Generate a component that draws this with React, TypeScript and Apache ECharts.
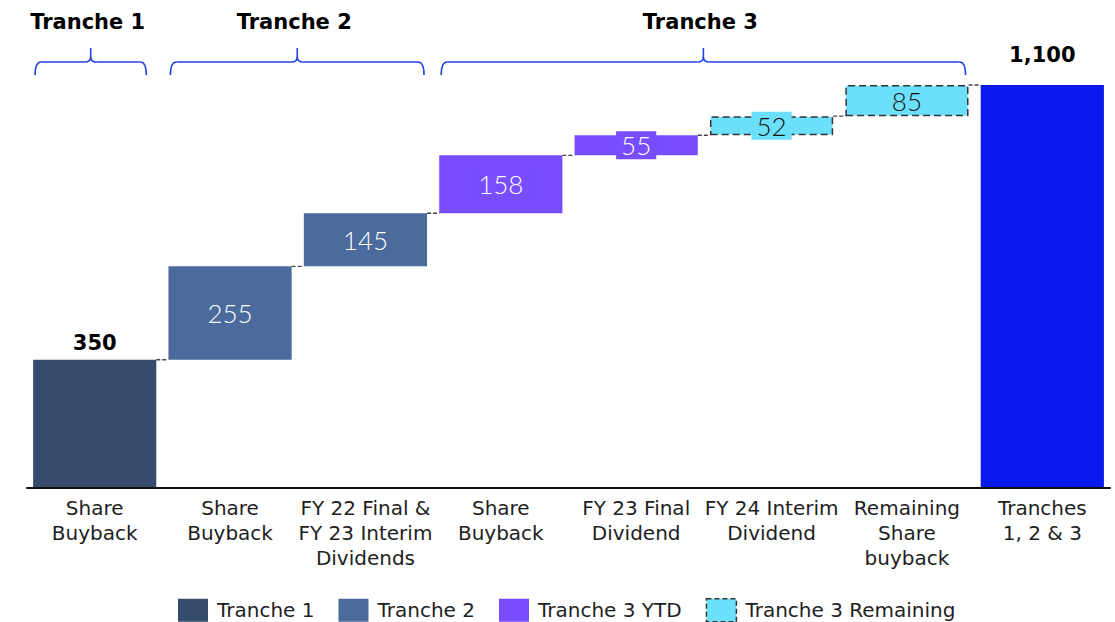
import React, { useEffect, useRef } from "react";
import * as echarts from "echarts";

const categories = [
  "Share\nBuyback",
  "Share\nBuyback",
  "FY 22 Final &\nFY 23 Interim\nDividends",
  "Share\nBuyback",
  "FY 23 Final\nDividend",
  "FY 24 Interim\nDividend",
  "Remaining\nShare\nbuyback",
  "Tranches\n1, 2 & 3",
];
const tranche1: (number | string)[] = [350, "-", "-", "-", "-", "-", "-", "-"];
const tranche2: (number | string)[] = ["-", 255, 145, "-", "-", "-", "-", "-"];
const tranche3Ytd: (number | string)[] = ["-", "-", "-", 158, 55, "-", "-", "-"];
const tranche3Remaining: (number | string)[] = ["-", "-", "-", "-", "-", 52, 85, "-"];
const totals: (number | string)[] = ["-", "-", "-", "-", "-", "-", "-", 1100];
const groupTitles = ["Tranche 1", "Tranche 2", "Tranche 3"];
const groupSpans = [
  [0, 0],
  [1, 2],
  [3, 6],
];
const legendNames = ["Tranche 1", "Tranche 2", "Tranche 3 YTD", "Tranche 3 Remaining"];

const C_T1 = "#364C6E";
const C_T2 = "#4A6B9B";
const C_T3 = "#784CFF";
const C_T3R = "#6CE0FB";
const C_TOT = "#0A1AEE";
const C_BRACE = "#2440E6";
const FONT = "'DejaVu Sans', Lato, sans-serif";
const NUM_FONT = "Lato, 'DejaVu Sans', sans-serif";
const GAP = 0.09;

export default function App() {
  const ref = useRef<HTMLDivElement>(null);
  useEffect(() => {
    if (!ref.current) return;
    const chart = echarts.init(ref.current, undefined, { renderer: "svg" });

    const n = categories.length;
    const steps: number[] = [];
    for (let i = 0; i < n; i++) {
      const vals = [tranche1[i], tranche2[i], tranche3Ytd[i], tranche3Remaining[i]];
      const v = vals.find((x) => x !== "-");
      steps.push(typeof v === "number" ? v : 0);
    }
    const base: number[] = [];
    const cum: number[] = [];
    let acc = 0;
    for (let i = 0; i < n; i++) {
      if (totals[i] !== "-") {
        base.push(0);
        cum.push(Number(totals[i]));
      } else {
        base.push(acc);
        acc += steps[i];
        cum.push(acc);
      }
    }
    const connectors: number[][] = [];
    for (let i = 0; i < n - 1; i++) connectors.push([i, cum[i]]);

    const insideLabel = (color: string, bg: string) => ({
      show: true,
      position: "inside",
      color,
      fontFamily: NUM_FONT,
      fontWeight: 300,
      fontSize: 26,
      lineHeight: 25,
      backgroundColor: bg,
      padding: [3, 5, 0, 5],
    });

    const boldLabel = (distance: number) => ({
      show: true,
      position: "top",
      distance,
      color: "#000",
      fontFamily: FONT,
      fontWeight: "bold",
      fontSize: 21,
      formatter: (p: any) => Number(p.value).toLocaleString("en-US"),
    });

    const remainingStyle = { color: C_T3R, borderColor: "#333", borderWidth: 1.5, borderType: [7, 4] };

    const option: any = {
      animation: false,
      grid: { left: 27, right: 5, top: 85, bottom: 134, outerBoundsMode: "none" },
      xAxis: {
        type: "category",
        data: categories,
        axisTick: { show: false },
        axisLine: { lineStyle: { color: "#111", width: 2 } },
        axisLabel: {
          interval: 0,
          color: "#1e1e1e",
          fontFamily: FONT,
          fontSize: 20,
          lineHeight: 25,
          margin: 7,
        },
        z: 5,
      },
      yAxis: { type: "value", min: 0, max: 1100, show: false, splitLine: { show: false } },
      legend: {
        data: legendNames.map((name) =>
          name === "Tranche 3 Remaining"
            ? { name, itemStyle: { ...remainingStyle, borderType: [5, 3] } }
            : { name }
        ),
        left: 178,
        top: 598,
        itemWidth: 30,
        itemHeight: 23,
        itemGap: 24,
        padding: 0,
        icon: "rect",
        textStyle: { fontFamily: FONT, fontSize: 20, color: "#1e1e1e", padding: [0, 0, 0, 4] },
      },
      series: [
        {
          name: "base",
          type: "bar",
          stack: "w",
          silent: true,
          barCategoryGap: GAP * 100 + "%",
          itemStyle: { color: "transparent" },
          data: base,
        },
        {
          name: "Tranche 1",
          type: "bar",
          stack: "w",
          itemStyle: { color: C_T1 },
          label: boldLabel(6),
          data: tranche1,
        },
        {
          name: "Tranche 2",
          type: "bar",
          stack: "w",
          itemStyle: { color: C_T2 },
          label: insideLabel("#fff", C_T2),
          data: tranche2,
        },
        {
          name: "Tranche 3 YTD",
          type: "bar",
          stack: "w",
          itemStyle: { color: C_T3 },
          label: insideLabel("#fff", C_T3),
          data: tranche3Ytd,
        },
        {
          name: "Tranche 3 Remaining",
          type: "bar",
          stack: "w",
          itemStyle: remainingStyle,
          label: insideLabel("#111", C_T3R),
          data: tranche3Remaining.map((v) =>
            v === "-" ? v : Number(v) < 60 ? { value: v } : { value: v, label: { backgroundColor: "transparent" } }
          ),
        },
        {
          name: "Total",
          type: "bar",
          stack: "w",
          itemStyle: { color: C_TOT },
          label: boldLabel(20),
          data: totals,
        },
        {
          name: "connectors",
          type: "custom",
          silent: true,
          z: 3,
          renderItem: (params: any, api: any) => {
            const i = api.value(0);
            const v = api.value(1);
            const p0 = api.coord([i, v]);
            const p1 = api.coord([i + 1, v]);
            const band = api.size([1, 0])[0];
            const hw = (band * (1 - GAP)) / 2;
            return {
              type: "line",
              shape: { x1: p0[0] + hw, y1: p0[1], x2: p1[0] - hw, y2: p0[1] },
              style: { stroke: "#444", lineWidth: 1.4, lineDash: [4, 2] },
            };
          },
          data: connectors,
        },
      ],
    };
    chart.setOption(option);

    // Braces and group titles, positioned from the category axis
    const c0 = chart.convertToPixel({ xAxisIndex: 0 }, 0) as number;
    const c1 = chart.convertToPixel({ xAxisIndex: 0 }, 1) as number;
    const band = c1 - c0;
    const hw = (band * (1 - GAP)) / 2;
    const hy = 62;
    const by = 75;
    const py = 48;
    const r = 6;
    const stroke = { stroke: C_BRACE, lineWidth: 1.6, fill: "none" };
    const graphics: any[] = [];
    groupSpans.forEach((span, gi) => {
      const L = (chart.convertToPixel({ xAxisIndex: 0 }, span[0]) as number) - hw + 2;
      const R = (chart.convertToPixel({ xAxisIndex: 0 }, span[1]) as number) + hw - (gi === 0 ? 10 : 3);
      const M = (L + R) / 2;
      graphics.push({
        type: "group",
        children: [
          { type: "bezierCurve", shape: { x1: L, y1: by, cpx1: L, cpy1: hy, x2: L + r, y2: hy }, style: stroke },
          { type: "line", shape: { x1: L + r, y1: hy, x2: M - r, y2: hy }, style: stroke },
          { type: "bezierCurve", shape: { x1: M - r, y1: hy, cpx1: M, cpy1: hy, x2: M, y2: hy - 5 }, style: stroke },
          { type: "line", shape: { x1: M, y1: hy - 5, x2: M, y2: py }, style: stroke },
          { type: "bezierCurve", shape: { x1: M + r, y1: hy, cpx1: M, cpy1: hy, x2: M, y2: hy - 5 }, style: stroke },
          { type: "line", shape: { x1: M + r, y1: hy, x2: R - r, y2: hy }, style: stroke },
          { type: "bezierCurve", shape: { x1: R - r, y1: hy, cpx1: R, cpy1: hy, x2: R, y2: by }, style: stroke },
        ],
      });
      graphics.push({
        type: "text",
        x: M - 3,
        y: 22,
        style: {
          text: groupTitles[gi],
          fill: "#000",
          font: `bold 21px ${FONT}`,
          textAlign: "center",
          textVerticalAlign: "middle",
        },
      });
    });
    chart.setOption({ graphic: graphics });

    return () => chart.dispose();
  }, []);
  return (
    <div
      ref={ref}
      style={{ position: "fixed", left: 0, top: 0, width: 1115, height: 622, background: "#fff" }}
    />
  );
}
